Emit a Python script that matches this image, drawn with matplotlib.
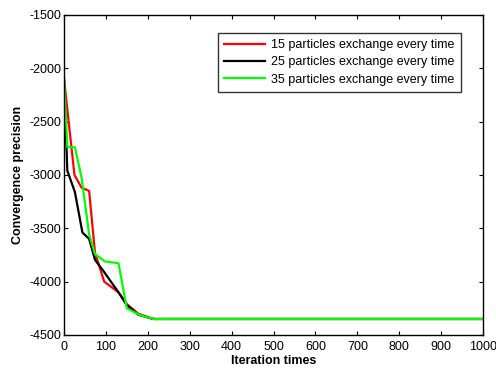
import matplotlib
matplotlib.use("Agg")
import matplotlib.pyplot as plt

plt.rcParams["font.family"] = ["Liberation Sans", "DejaVu Sans"]
plt.rcParams["axes.unicode_minus"] = False

# iteration / convergence values
x_15 = [0, 25, 42, 60, 74, 96, 130, 150, 177, 213, 1000]
y_15 = [-2100, -3000, -3120, -3150, -3730, -4000, -4100, -4210, -4300, -4350, -4350]

x_25 = [0, 8, 26, 44, 60, 74, 94, 130, 150, 177, 213, 1000]
y_25 = [-2100, -2960, -3160, -3540, -3600, -3796, -3900, -4100, -4220, -4310, -4350, -4350]

x_35 = [0, 8, 26, 42, 60, 74, 98, 130, 150, 181, 213, 1000]
y_35 = [-2100, -2740, -2740, -3026, -3556, -3743, -3811, -3827, -4250, -4313, -4350, -4350]

labels = ["15 particles exchange every time",
          "25 particles exchange every time",
          "35 particles exchange every time"]

fig = plt.figure(figsize=(4.96, 3.68), dpi=100)
ax = fig.add_axes([0.129, 0.0897, 0.845, 0.87])

ax.plot(x_15, y_15, color="#ff0000", lw=1.6, label=labels[0])
ax.plot(x_25, y_25, color="#000000", lw=1.6, label=labels[1])
ax.plot(x_35, y_35, color="#00ff00", lw=1.6, label=labels[2])

ax.set_xlim(0, 1000)
ax.set_ylim(-4500, -1500)
ax.set_xticks(range(0, 1001, 100))
ax.set_yticks(range(-4500, -1499, 500))
ax.tick_params(direction="in", top=True, right=True, labelsize=9, length=3)
ax.tick_params(axis="x", pad=4)
ax.tick_params(axis="y", pad=2)
for s in ax.spines.values():
    s.set_linewidth(1.0)

ax.set_xlabel("Iteration times", fontsize=9, fontweight="bold", labelpad=2)
ax.set_ylabel("Convergence precision", fontsize=9, fontweight="bold", labelpad=4)

# legend box spans roughly x 215-461, y 33-90 px in the reference
leg = ax.legend(loc="upper right", bbox_to_anchor=(0.947, 0.944), fontsize=9,
                frameon=True, fancybox=False, edgecolor="black", handlelength=3.3,
                borderpad=0.5, labelspacing=0.43, handletextpad=0.5,
                borderaxespad=0)
leg.get_frame().set_linewidth(1.0)

fig.savefig("out.png", dpi=100)
